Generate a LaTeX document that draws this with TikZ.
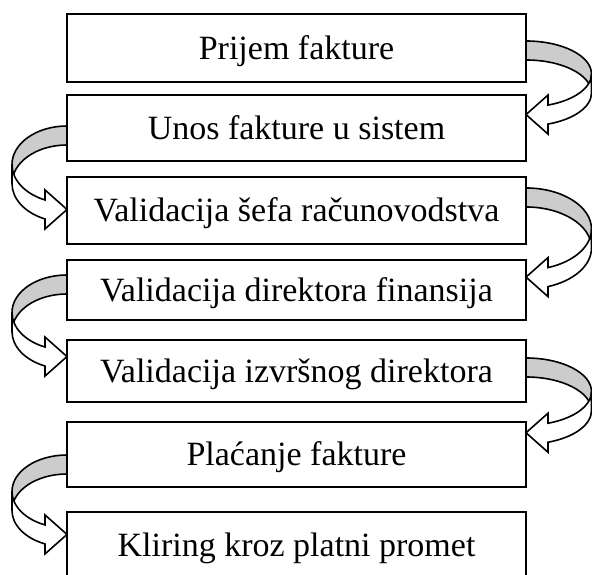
\documentclass[tikz,border=0pt]{standalone}
\usepackage{fontspec}
\setmainfont{Liberation Serif}

% Curved block arrow hooking from one box edge to the next.
% #1 start point (top of the band on the box edge), #2 side (1 = right, -1 = left),
% #3 horizontal radius, #4 vertical radius (all in pt)
\newcommand\hookarrow[4]{%
  \pgfmathsetmacro\cvS{#2}%
  \pgfmathsetmacro\cvA{#3}%
  \pgfmathsetmacro\cvB{#4}%
  \pgfmathsetmacro\cvP{acos(22/\cvA)}%
  \pgfmathsetmacro\cvMid{90-90*(\cvS)}%
  \pgfmathsetmacro\cvEnd{90-(\cvS)*(90+\cvP)}%
  % shaded back half of the band
  \draw[bandback] (#1)
    arc[start angle=90, end angle=\cvMid, x radius=\cvA pt, y radius=\cvB pt]
    -- ++(0,-19)
    arc[start angle=\cvMid, end angle=90, x radius=\cvA pt, y radius=\cvB pt]
    -- cycle;
  % front half with the arrow head
  \draw[bandfront] (#1) ++({(\cvS)*\cvA},{-\cvB})
    arc[start angle=\cvMid, end angle=\cvEnd, x radius=\cvA pt, y radius=\cvB pt]
    -- ++(0,10) -- ++({-(\cvS)*22},-19.5) -- ++({(\cvS)*22},-19.5) -- ++(0,10)
    arc[start angle=\cvEnd, end angle=\cvMid, x radius=\cvA pt, y radius=\cvB pt]
    -- cycle;
}

\begin{document}
\begin{tikzpicture}[x=1pt,y=1pt,
  stepbox/.style={draw, line width=1.7pt, minimum width=459pt, inner sep=0pt,
    outer sep=0pt, text height=22.5pt, text depth=0pt,
    font=\fontsize{34}{40}\selectfont},
  bandback/.style={fill=black!20, line width=1.6pt, line join=round},
  bandfront/.style={fill=white, line width=1.6pt, line join=miter},
]
\useasboundingbox (0,0) rectangle (592,575);
\clip (0,0) rectangle (592,575);

% process steps
\node[stepbox, minimum height=68pt] (b1) at (296.5,527) {Prijem fakture};
\node[stepbox, minimum height=66pt] (b2) at (296.5,447) {Unos fakture u sistem};
\node[stepbox, minimum height=67pt] (b3) at (296.5,364.5) {Validacija šefa računovodstva};
\node[stepbox, minimum height=60pt] (b4) at (296.5,285) {Validacija direktora finansija};
\node[stepbox, minimum height=62pt] (b5) at (296.5,204) {Validacija izvršnog direktora};
\node[stepbox, minimum height=65pt] (b6) at (296.5,120.5) {Plaćanje fakture};
\node[stepbox, minimum height=66pt] (b7) at (296.5,30) {Kliring kroz platni promet};

% start points of the hooked arrows
\coordinate (s1) at ([yshift=-27pt]b1.north east);
\coordinate (s2) at ([yshift=-31pt]b2.north west);
\coordinate (s3) at ([yshift=-11pt]b3.north east);
\coordinate (s4) at ([yshift=-15pt]b4.north west);
\coordinate (s5) at ([yshift=-18pt]b5.north east);
\coordinate (s6) at ([yshift=-33pt]b6.north west);

\hookarrow{s1}{1}{65.5}{33}
\hookarrow{s2}{-1}{55}{38.6}
\hookarrow{s3}{1}{65.5}{41}
\hookarrow{s4}{-1}{55}{37.6}
\hookarrow{s5}{1}{65.5}{33.6}
\hookarrow{s6}{-1}{55}{36.5}
\end{tikzpicture}
\end{document}
